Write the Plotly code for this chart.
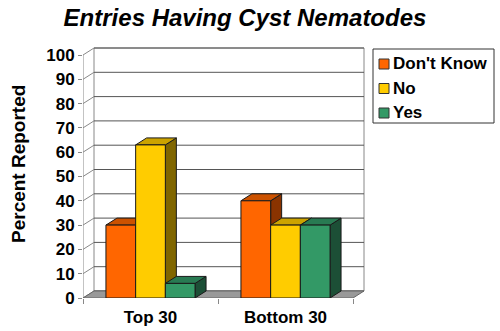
import plotly.graph_objects as go

# ---------------- data ----------------
categories = ["Top 30", "Bottom 30"]
series_names = ["Don't Know", "No", "Yes"]
dont_know = [30, 40]
no_vals = [63, 30]
yes_vals = [6, 30]
series_values = [dont_know, no_vals, yes_vals]
y_ticks = [0, 10, 20, 30, 40, 50, 60, 70, 80, 90, 100]

# ---------------- styles ----------------
front_colors = ["#FF6600", "#FFCC00", "#339966"]
top_colors = ["#CC5200", "#CCA300", "#287A52"]
side_colors = ["#8A3300", "#806600", "#1C4F36"]
FONT = "Liberation Sans, Arial, sans-serif"

W, H = 500, 331
PX_L, PX_R = 83, 365          # plot area left/right (px)
PX_T, PX_B = 44, 298          # plot area top/bottom (px)
SX = 135.0                    # px per category unit
SY = 2.43                     # px per percent
DX_PX, DY_PX = 11, 7          # depth offset in px
ddx = DX_PX / SX
ddy = DY_PX / SY
x_min = -0.5
x_max = x_min + (PX_R - PX_L) / SX
y_max = (PX_B - PX_T) / SY

bargap = 0.34
n_series = len(series_values)
bw = (1 - bargap) / n_series

def px2paper_x(px):
    return (px - PX_L) / (PX_R - PX_L)

def px2paper_y(py):
    return (PX_B - py) / (PX_B - PX_T)

fig = go.Figure()
xs = list(range(len(categories)))
for s, (name, vals) in enumerate(zip(series_names, series_values)):
    fig.add_trace(go.Bar(
        x=xs, y=vals, name=name,
        marker=dict(color=front_colors[s], line=dict(color="#1a1a1a", width=1)),
        showlegend=False,
    ))

shapes = []
grid_col = "#555555"
edge_col = "#888888"
# back wall
shapes.append(dict(type="rect", xref="x", yref="y", layer="below",
                   x0=x_min + ddx, x1=x_min + 2 + ddx, y0=ddy, y1=100 + ddy,
                   fillcolor="white", line=dict(color=edge_col, width=1)))
# gridlines on back wall + side-wall diagonals
for v in y_ticks:
    shapes.append(dict(type="line", xref="x", yref="y", layer="below",
                       x0=x_min + ddx, x1=x_min + 2 + ddx, y0=v + ddy, y1=v + ddy,
                       line=dict(color=grid_col, width=1)))
    shapes.append(dict(type="line", xref="x", yref="y", layer="below",
                       x0=x_min, x1=x_min + ddx, y0=v, y1=v + ddy,
                       line=dict(color=edge_col, width=1)))
# front vertical axis line
shapes.append(dict(type="line", xref="x", yref="y", layer="below",
                   x0=x_min, x1=x_min, y0=0, y1=100,
                   line=dict(color=edge_col, width=1)))
# floor
shapes.append(dict(type="path", xref="x", yref="y", layer="below",
                   path=f"M{x_min},0 L{x_min+2},0 L{x_min+2+ddx},{ddy} L{x_min+ddx},{ddy} Z",
                   fillcolor="#999999", line=dict(color="#666666", width=1)))
# 3D top & side faces of bars (left to right)
for c in xs:
    for s in range(n_series):
        v = series_values[s][c]
        L = c - (1 - bargap) / 2 + s * bw
        R = L + bw
        shapes.append(dict(type="path", xref="x", yref="y", layer="below",
                           path=f"M{R},0 L{R+ddx},{ddy} L{R+ddx},{v+ddy} L{R},{v} Z",
                           fillcolor=side_colors[s], line=dict(color="#1a1a1a", width=1)))
        shapes.append(dict(type="path", xref="x", yref="y", layer="below",
                           path=f"M{L},{v} L{R},{v} L{R+ddx},{v+ddy} L{L+ddx},{v+ddy} Z",
                           fillcolor=top_colors[s], line=dict(color="#1a1a1a", width=1)))

# legend (manual)
shapes.append(dict(type="rect", xref="paper", yref="paper", layer="above",
                   x0=px2paper_x(373), x1=px2paper_x(494), y0=px2paper_y(123), y1=px2paper_y(49),
                   fillcolor="white", line=dict(color="#333333", width=1)))
annotations = []
leg_y = [64, 88.5, 113]
for s, name in enumerate(series_names):
    yc = leg_y[s]
    shapes.append(dict(type="rect", xref="paper", yref="paper", layer="above",
                       x0=px2paper_x(379), x1=px2paper_x(389),
                       y0=px2paper_y(yc + 5), y1=px2paper_y(yc - 5),
                       fillcolor=front_colors[s], line=dict(color="#333333", width=1)))
    annotations.append(dict(xref="paper", yref="paper", x=px2paper_x(391), y=px2paper_y(yc),
                            xanchor="left", yanchor="middle", showarrow=False, text=name,
                            font=dict(family=FONT, size=17, color="black", weight="bold")))

# y-axis title
annotations.append(dict(xref="paper", yref="paper", x=px2paper_x(18), y=px2paper_y(164),
                        xanchor="center", yanchor="middle", showarrow=False,
                        text="Percent Reported", textangle=-90,
                        font=dict(family=FONT, size=19, color="black", weight="bold")))

fig.update_layout(
    width=W, height=H,
    margin=dict(l=PX_L, r=W - PX_R, t=PX_T, b=H - PX_B, pad=0, autoexpand=False),
    paper_bgcolor="white", plot_bgcolor="rgba(0,0,0,0)",
    barmode="group", bargap=bargap, bargroupgap=0,
    title=dict(text="Entries Having Cyst Nematodes", xref="container", yref="container",
               x=245 / W, y=1 - 18 / H, xanchor="center", yanchor="middle",
               font=dict(family=FONT, size=24, color="black", weight="bold", style="italic")),
    shapes=shapes, annotations=annotations,
    showlegend=False,
)
fig.update_xaxes(range=[x_min, x_max], tickvals=xs, ticktext=categories,
                 ticks="", showgrid=False, zeroline=False, showline=False,
                 ticklabelstandoff=7, automargin=False,
                 tickfont=dict(family=FONT, size=17, color="black", weight="bold"),
                 minor=dict(tickmode="array", tickvals=[x_min, x_min + 1, x_min + 2],
                            ticks="outside", ticklen=5, tickcolor=edge_col, tickwidth=1),
                 fixedrange=True)
fig.update_yaxes(range=[0, y_max], tickvals=y_ticks, ticks="outside", ticklen=4,
                 tickcolor=edge_col, showgrid=False, zeroline=False, showline=False,
                 automargin=False,
                 tickfont=dict(family=FONT, size=17, color="black", weight="bold"),
                 fixedrange=True)

fig.write_html("out.html")
